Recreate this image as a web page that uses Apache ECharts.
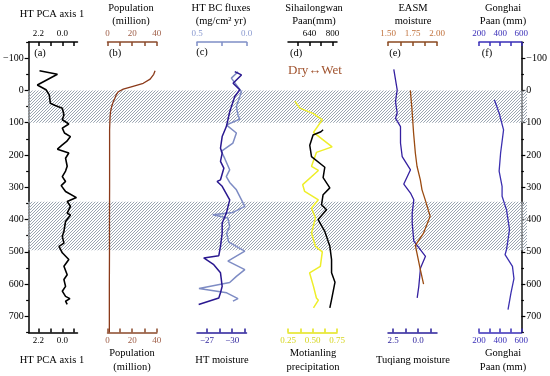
<!DOCTYPE html>
<html><head><meta charset="utf-8">
<script src="https://cdn.jsdelivr.net/npm/echarts@6/dist/echarts.min.js"></script>
<style>html,body{margin:0;padding:0;background:#fff}#c{width:550px;height:376px}</style>
</head><body><div id="c"></div>
<script>
// ---------- DATA ----------
const depthTicks = [-100, 0, 100, 200, 300, 400, 500, 600, 700];
const depthMinorTicks = [-150, -50, 50, 150, 250, 350, 450, 550, 650, 750];
const hatchBands = [[0, 100], [345, 495]];

// (a) HT PCA axis 1
const pcaDepth = [-61,-50,-17,-2,14,40,46,55,76,91,104,117,132,143,158,169,182,194,210,235,250,267,282,295,313,332,344,359,380,386,406,437,452,473,483,503,524,545,571,586,607,622,638,645,653,663];
const pcaValue = [2.1,0.45,2.3,1.5,1.2,1.1,0.7,0.0,-0.15,0.0,-0.6,0.0,-0.2,-0.75,-0.4,0.0,0.45,-0.6,-0.3,-0.45,-0.3,0.0,-0.3,0.1,-0.3,-1.3,-0.45,-0.75,-0.45,-0.75,-0.3,-0.15,0.0,-0.15,0.3,0.0,-0.6,-0.15,-0.45,-0.15,-0.3,0.0,-0.3,-0.7,-0.3,-0.45];

// (b) Population (million)
const popDepth = [-61,-50,-35,-22,-12,-4,4,14,24,37,50,65,81,100,122,200,300,400,500,600,750];
const popValue = [38.6,37.5,34.6,29,20,12.8,8.8,7,6,4.5,3.4,2.5,2.1,1.9,1.7,1.7,1.7,1.6,1.6,1.5,1.5];

// (c) HT BC fluxes (top axis) and HT moisture (bottom axis)
const bcDepth = [-58,-38,4,50,76,89,107,132,163,189,210,246,267,285,308,359,378,385,395,421,442,470,498,529,555,576,595,614,627,645,653];
const bcValue = [0.086,0.153,0.051,0.102,0.086,0.068,0.204,0.102,0.137,0.255,0.221,0.17,0.204,0.17,0.102,0.017,0.137,0.341,0.188,0.17,0.2,0.18,0.017,0.188,0.017,0.102,0.17,0.48,0.2,0.086,0.137];
const htmDepth = [-58,-48,-22,-2,19,66,112,143,179,194,220,241,277,282,297,339,380,411,442,483,512,519,540,565,607,627,643,663];
const htmValue = [-30.3,-31.1,-30.1,-30.9,-30.3,-29.7,-29.3,-28.8,-28.6,-28.8,-28.6,-29.0,-28.6,-28.2,-28.8,-29.7,-29.3,-28.8,-28.8,-28.6,-28.4,-26.6,-27.8,-28.6,-28.8,-28.6,-28.4,-26.0];

// (d) Sihailongwan Paan (top) and Motianling precipitation (bottom)
const shlDepth = [122,128,138,170,205,238,270,302,323,354,370,400,437,483,524,565,594,648,674];
const shlValue = [735,720,665,642,654,747,735,782,735,724,759,700,747,782,794,794,818,794,782];
const motDepth = [33,55,72,91,130,175,192,235,248,292,313,339,364,395,442,483,500,545,565,607,643,650,674];
const motValue = [0.32,0.37,0.51,0.6,0.51,0.7,0.54,0.49,0.56,0.4,0.42,0.56,0.49,0.53,0.49,0.53,0.6,0.58,0.47,0.51,0.54,0.56,0.51];

// (e) EASM moisture (top) and Tuqiang moisture (bottom)
const easmDepth = [0,60,132,194,235,277,308,339,390,442,480,555,600];
const easmValue = [1.728,1.745,1.761,1.779,1.796,1.83,1.847,1.88,1.93,1.863,1.779,1.83,1.863];
const tuqDepth = [-65,-2,35,70,86,112,163,205,246,290,318,339,380,411,467,514,550,607,643];
const tuqValue = [2.42,2.08,2.25,2.08,2.25,1.75,1.75,1.58,0.75,1.42,0.75,0.42,0.58,0.58,0.42,-0.75,-0.25,-0.08,0.08];

// (f) Gonghai Paan (mm)
const ghDepth = [29,70,122,194,250,297,328,370,431,493,509,545,583,627,679];
const ghValue = [345,390,432,404,390,418,418,460,488,460,446,516,530,502,474];

// tick values / labels per axis
const pcaTicks = [2.2, 1.1, 0, -1.1], pcaLabels = [2.2, 0];
const popTicks = [0, 10, 20, 30, 40], popLabels = [0, 20, 40];
const bcTicks = [0, 0.25, 0.5], bcLabels = [0.5, 0];
const htmTicks = [-27, -28.5, -30, -31.5], htmLabels = [-27, -30];
const shlTicks = [560, 640, 720, 800], shlLabels = [640, 800];
const motTicks = [0.25, 0.375, 0.5, 0.625, 0.75], motLabels = [0.25, 0.5, 0.75];
const easmTicks = [1.5, 1.625, 1.75, 1.875, 2.0], easmLabels = [1.5, 1.75, 2.0];
const tuqTicks = [2.5, 1.25, 0, -1.25], tuqLabels = [2.5, 0];
const ghTicks = [200, 300, 400, 500, 600], ghLabels = [200, 400, 600];

// ---------- CHART ----------
const FONT = 'Liberation Serif';
const zip = (v, d) => v.map((x, i) => [x, d[i]]);
const minus = s => String(s).replace('-', '\u2212');

const pc = document.createElement('canvas');
pc.width = 3; pc.height = 3;
const pctx = pc.getContext('2d');
pctx.fillStyle = 'rgba(255,255,255,0.4)';
pctx.fillRect(0, 0, 3, 3);
pctx.fillStyle = '#9aa5b1';
for (let i = 0; i < 3; i++) pctx.fillRect(2 - i, i, 1, 1);

const TOP = 42, H = 290.5;
const gridBoxes = [[28, 499], [27.5, 50], [107.5, 49.3], [197, 49.5], [288, 49], [388, 49], [479, 48]];
const grid = gridBoxes.map(g => ({ left: g[0], width: g[1], top: TOP, height: H }));

function xAx(gi, pos, min, max, inverse, color, labelColor, ticks, labels, fmt) {
  return {
    type: 'value', gridIndex: gi, position: pos, min, max, inverse,
    splitLine: { show: false },
    axisLine: { show: true, onZero: false, lineStyle: { color, width: 1.5 } },
    axisTick: { show: true, inside: true, length: 4, customValues: ticks, lineStyle: { color, width: 1.5 } },
    axisLabel: { show: true, customValues: labels, color: labelColor, fontSize: 9, fontFamily: FONT, margin: 4, formatter: v => minus(fmt(v)), hideOverlap: false }
  };
}
const f1 = v => v.toFixed(1), f2 = v => v.toFixed(2), f0 = v => String(v);

const xAxis = [
  { type: 'value', gridIndex: 0, min: 0, max: 1, show: false },
  xAx(1, 'top', -1.4, 3.1, true, '#000', '#000', pcaTicks, pcaLabels, f1),
  xAx(1, 'bottom', -1.4, 3.1, true, '#000', '#000', pcaTicks, pcaLabels, f1),
  xAx(2, 'top', 0, 40, false, '#8b4a2b', '#a0604a', popTicks, popLabels, f0),
  xAx(2, 'bottom', 0, 40, false, '#8b4a2b', '#a0604a', popTicks, popLabels, f0),
  xAx(3, 'top', 0, 0.5, true, '#7f8fc6', '#8a9ad0', bcTicks, bcLabels, f1),
  xAx(3, 'bottom', -31.7, -25.8, true, '#2a1f9a', '#2a1f9a', htmTicks, htmLabels, f0),
  xAx(4, 'top', 490, 832, false, '#000', '#000', shlTicks, shlLabels, f0),
  xAx(4, 'bottom', 0.25, 0.75, false, '#e4e41a', '#d6d620', motTicks, motLabels, f2),
  xAx(5, 'top', 1.5, 2.0, false, '#8b4a20', '#c0703a', easmTicks, easmLabels, f2),
  xAx(5, 'bottom', -1.9, 3.0, true, '#2a1f9a', '#2a1f9a', tuqTicks, tuqLabels, f1),
  xAx(6, 'top', 200, 600, false, '#3a2fb8', '#3a2fb8', ghTicks, ghLabels, f0),
  xAx(6, 'bottom', 200, 600, false, '#3a2fb8', '#3a2fb8', ghTicks, ghLabels, f0)
];

function yAx(gi, show, pos, ticks, labels, len, inside) {
  return {
    type: 'value', gridIndex: gi, position: pos, min: -150, max: 750, inverse: true, show,
    splitLine: { show: false },
    axisLine: { show: show && labels, onZero: false, lineStyle: { color: '#000', width: 1.5 } },
    axisTick: { show: show, inside: !!inside, length: len, customValues: ticks, lineStyle: { color: '#000', width: 1.2 } },
    axisLabel: { show: !!labels, customValues: ticks, color: '#000', fontSize: 10, fontFamily: FONT, margin: 5,
      formatter: v => minus(v) }
  };
}
const yAxis = [
  yAx(0, false, 'left'),
  yAx(1, true, 'left', depthTicks, true, 4, false),
  yAx(2, false, 'left'), yAx(3, false, 'left'), yAx(4, false, 'left'), yAx(5, false, 'left'),
  yAx(6, true, 'right', depthTicks, true, 4, false),
  yAx(1, true, 'left', depthMinorTicks, false, 2.5, false),
  yAx(6, true, 'right', depthMinorTicks, false, 2.5, false)
];

function line(xi, yi, data, color, width) {
  return { type: 'line', xAxisIndex: xi, yAxisIndex: yi, data, symbol: 'none', showSymbol: false,
    lineStyle: { color, width }, itemStyle: { color }, z: 3, animation: false, silent: true };
}

const series = [
  line(1, 1, zip(pcaValue, pcaDepth), '#000', 1.6),
  line(3, 2, zip(popValue, popDepth), '#8b3a1a', 1.3),
  line(5, 3, zip(bcValue, bcDepth), '#7e8cc4', 1.5),
  line(6, 3, zip(htmValue, htmDepth), '#2a1890', 1.5),
  line(8, 4, zip(motValue, motDepth), '#eeee2a', 1.5),
  line(7, 4, zip(shlValue, shlDepth), '#000', 1.5),
  line(10, 5, zip(tuqValue, tuqDepth), '#3520a0', 1.3),
  line(9, 5, zip(easmValue, easmDepth), '#9a4a10', 1.3),
  line(11, 6, zip(ghValue, ghDepth), '#3c30b0', 1.3),
  {
    type: 'line', xAxisIndex: 0, yAxisIndex: 0, data: [], symbol: 'none', z: 10, silent: true, animation: false,
    markArea: {
      silent: true,
      itemStyle: { color: { image: pc, repeat: 'repeat' } },
      data: hatchBands.map(b => [{ xAxis: 0, yAxis: b[0] }, { xAxis: 1, yAxis: b[1] }])
    }
  }
];

const topTitles = [
  [52, 14, 'HT PCA axis 1'],
  [131, 8, 'Population'], [131, 21, '(million)'],
  [221, 8, 'HT BC fluxes'], [221, 21, '(mg/cm\u00b2 yr)'],
  [314, 8, 'Sihailongwan'], [314, 21, 'Paan(mm)'],
  [413, 8, 'EASM'], [413, 21, 'moisture'],
  [503, 8, 'Gonghai'], [503, 21, 'Paan (mm)']
];
const bottomTitles = [
  [52, 360.5, 'HT PCA axis 1'],
  [132, 353.5, 'Population'], [132, 367, '(million)'],
  [222, 360.5, 'HT moisture'],
  [313, 353.5, 'Motianling'], [313, 367, 'precipitation'],
  [413, 360.5, 'Tuqiang moisture'],
  [503, 353.5, 'Gonghai'], [503, 367, 'Paan (mm)']
];
const panelTags = [[40, 53, '(a)'], [115, 53, '(b)'], [202, 52, '(c)'], [296, 53, '(d)'], [395, 53, '(e)'], [487, 53, '(f)']];

const txt = (x, y, s, size, color) => ({
  type: 'text', x, y, silent: true, z: 20,
  style: { text: s, fill: color || '#000', font: size + 'px "' + FONT + '"', align: 'center', verticalAlign: 'middle' }
});
const graphic = []
  .concat(topTitles.map(t => txt(t[0], t[1], t[2], 10.5)))
  .concat(bottomTitles.map(t => txt(t[0], t[1], t[2], 10.5)))
  .concat(panelTags.map(t => txt(t[0], t[1], t[2], 10.5)))
  .concat([txt(315, 71, 'Dry\u2194Wet', 13, '#a0522d')]);

const chart = echarts.init(document.getElementById('c'), null, { renderer: 'canvas' });
chart.setOption({ animation: false, backgroundColor: '#fff', grid, xAxis, yAxis, series, graphic });
</script></body></html>
